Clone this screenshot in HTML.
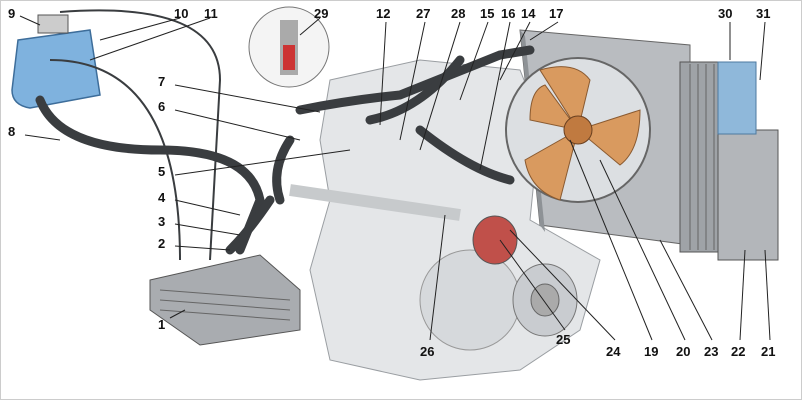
<!DOCTYPE html>
<html><head><meta charset="utf-8"><style>
body{margin:0;background:#fff}
svg{display:block}
text{font-family:"Liberation Sans",sans-serif;font-weight:bold;font-size:13px;fill:#111}
</style></head><body>
<svg width="802" height="400" viewBox="0 0 802 400" xmlns="http://www.w3.org/2000/svg">
<rect x="0.5" y="0.5" width="801" height="399" fill="#fff" stroke="#ccc"/>
<!-- engine block -->
<path d="M330 80 L420 60 L520 70 L540 120 L530 220 L600 260 L580 330 L520 370 L420 380 L330 360 L310 270 L330 200 L320 140 Z" fill="#e4e6e8" stroke="#9a9ea2"/>
<ellipse cx="470" cy="300" rx="50" ry="50" fill="#d6d9dc" stroke="#999"/>
<ellipse cx="545" cy="300" rx="32" ry="36" fill="#c9ccd0" stroke="#777"/>
<ellipse cx="545" cy="300" rx="14" ry="16" fill="#aaa" stroke="#666"/>
<ellipse cx="495" cy="240" rx="22" ry="24" fill="#c0504a" stroke="#555"/>
<!-- radiator -->
<path d="M520 30 L690 45 L690 245 L540 225 Z" fill="#b9bcc0" stroke="#666"/>
<path d="M520 30 L540 225 L545 232 L525 36 Z" fill="#8e9296"/>
<rect x="680" y="62" width="55" height="190" fill="#9fa3a7" stroke="#555"/>
<g stroke="#666" stroke-width="1">
<line x1="690" y1="64" x2="690" y2="250"/><line x1="698" y1="64" x2="698" y2="250"/><line x1="706" y1="64" x2="706" y2="250"/><line x1="714" y1="64" x2="714" y2="250"/><line x1="722" y1="64" x2="722" y2="250"/></g>
<rect x="718" y="130" width="60" height="130" fill="#b3b6ba" stroke="#555"/>
<rect x="718" y="62" width="38" height="72" fill="#8fb8da" stroke="#4d7aa0"/>
<!-- fan -->
<circle cx="578" cy="130" r="72" fill="#dcdfe2" stroke="#666" stroke-width="2"/>
<path d="M578 130 L540 70 Q575 60 590 80 Z M578 130 L640 110 Q640 150 620 165 Z M578 130 L560 200 Q530 190 525 160 Z M578 130 L530 120 Q530 90 545 85 Z" fill="#d99a5f" stroke="#8a5a30"/>
<circle cx="578" cy="130" r="14" fill="#c07a40" stroke="#6a4020"/>
<!-- tank -->
<path d="M18 40 L90 30 L100 95 L30 108 Q12 105 12 90 Z" fill="#7fb2de" stroke="#3d6d9a" stroke-width="1.5"/>
<rect x="38" y="15" width="30" height="18" fill="#ccc" stroke="#555"/>
<!-- heater core -->
<path d="M150 280 L260 255 L300 290 L300 330 L200 345 L150 310 Z" fill="#a9acb0" stroke="#555"/>
<g stroke="#666"><line x1="160" y1="290" x2="290" y2="300"/><line x1="160" y1="300" x2="290" y2="310"/><line x1="160" y1="310" x2="290" y2="320"/></g>
<!-- hoses -->
<g fill="none" stroke="#3a3d40" stroke-width="9" stroke-linecap="round">
<path d="M40 100 Q60 150 160 150 Q250 150 260 200 L240 250"/>
<path d="M300 110 Q350 100 400 95 L500 55 L530 50"/>
<path d="M370 120 Q420 110 460 60"/>
<path d="M420 130 Q470 170 510 180"/>
<path d="M290 140 Q270 170 280 200"/>
<path d="M270 200 Q250 230 230 250"/>
</g>
<g fill="none" stroke="#3a3d40" stroke-width="2"><path d="M60 12 Q220 0 220 80 L210 260"/><path d="M50 60 Q180 60 180 260"/></g>
<path d="M290 190 L460 215" stroke="#c7cacc" stroke-width="12" fill="none"/>
<circle cx="289" cy="47" r="40" fill="#f4f4f4" stroke="#777"/>
<rect x="280" y="20" width="18" height="55" fill="#aaa"/><rect x="283" y="45" width="12" height="25" fill="#c33"/>
<!-- leader lines -->
<g stroke="#222" stroke-width="1">
<line x1="20" y1="16" x2="40" y2="25"/><line x1="180" y1="18" x2="100" y2="40"/><line x1="210" y1="18" x2="90" y2="60"/>
<line x1="320" y1="18" x2="300" y2="35"/><line x1="386" y1="22" x2="380" y2="125"/><line x1="425" y1="22" x2="400" y2="140"/>
<line x1="460" y1="22" x2="420" y2="150"/><line x1="488" y1="22" x2="460" y2="100"/><line x1="510" y1="22" x2="480" y2="170"/>
<line x1="530" y1="22" x2="500" y2="80"/><line x1="558" y1="22" x2="530" y2="40"/>
<line x1="730" y1="22" x2="730" y2="60"/><line x1="765" y1="22" x2="760" y2="80"/>
<line x1="175" y1="85" x2="320" y2="112"/><line x1="175" y1="110" x2="300" y2="140"/><line x1="25" y1="135" x2="60" y2="140"/>
<line x1="175" y1="175" x2="350" y2="150"/><line x1="175" y1="200" x2="240" y2="215"/><line x1="175" y1="224" x2="240" y2="235"/>
<line x1="175" y1="246" x2="230" y2="250"/><line x1="170" y1="318" x2="185" y2="310"/>
<line x1="430" y1="340" x2="445" y2="215"/><line x1="565" y1="330" x2="500" y2="240"/><line x1="615" y1="340" x2="510" y2="230"/>
<line x1="652" y1="340" x2="570" y2="140"/><line x1="685" y1="340" x2="600" y2="160"/><line x1="712" y1="340" x2="660" y2="240"/>
<line x1="740" y1="340" x2="745" y2="250"/><line x1="770" y1="340" x2="765" y2="250"/>
</g>
<text x="8" y="18">9</text><text x="174" y="18">10</text><text x="204" y="18">11</text><text x="314" y="18">29</text>
<text x="376" y="18">12</text><text x="416" y="18">27</text><text x="451" y="18">28</text><text x="480" y="18">15</text>
<text x="501" y="18">16</text><text x="521" y="18">14</text><text x="549" y="18">17</text><text x="718" y="18">30</text><text x="756" y="18">31</text>
<text x="158" y="86">7</text><text x="158" y="111">6</text><text x="8" y="136">8</text><text x="158" y="176">5</text>
<text x="158" y="202">4</text><text x="158" y="226">3</text><text x="158" y="248">2</text><text x="158" y="329">1</text>
<text x="420" y="356">26</text><text x="556" y="344">25</text><text x="606" y="356">24</text><text x="644" y="356">19</text>
<text x="676" y="356">20</text><text x="704" y="356">23</text><text x="731" y="356">22</text><text x="761" y="356">21</text>
</svg>
</body></html>
